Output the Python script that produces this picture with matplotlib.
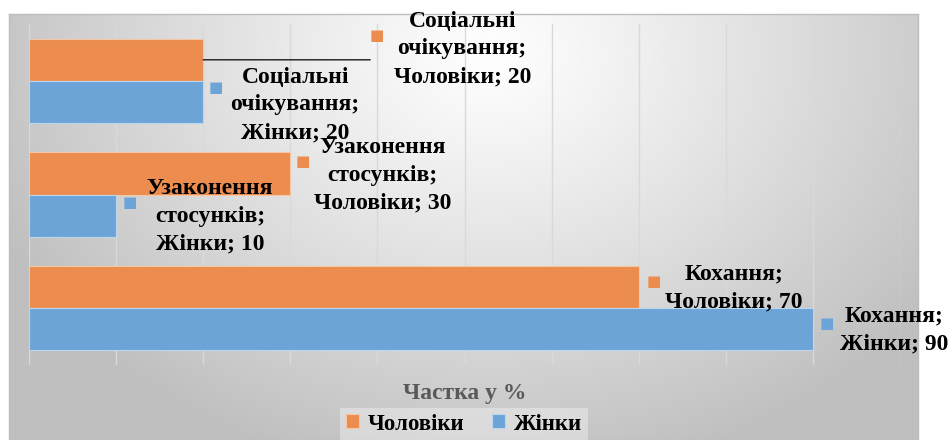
import numpy as np
import matplotlib.pyplot as plt

# data (bottom -> top, as drawn)
categories = ['Кохання', 'Узаконення стосунків', 'Соціальні очікування']
label_names = ['Кохання;', 'Узаконення\nстосунків;', 'Соціальні\nочікування;']
men = [70, 30, 20]
women = [90, 10, 20]
series_names = ['Чоловіки', 'Жінки']

c_men = '#EC8C4E'
c_women = '#6DA4D8'
serif = ['Liberation Serif', 'DejaVu Serif']

W, H = 950, 440
fig = plt.figure(figsize=(W / 100, H / 100), dpi=100)

#%% background box with soft gradient
bx0, by0, bx1, by1 = 9, 14, 918, 440
bg = fig.add_axes([bx0 / W, 1 - by1 / H, (bx1 - bx0) / W, (by1 - by0) / H])
gx, gy = np.meshgrid(np.arange(bx1 - bx0), np.arange(by1 - by0))
r = np.sqrt(((gx - 480) / 540.0) ** 2 + ((gy - 40) / 430.0) ** 2)
shade = 1 - 0.25 * np.clip(r, 0, 1) ** 1.1
bg.imshow(np.dstack([shade] * 3), aspect='auto', interpolation='bilinear')
bg.set_xticks([])
bg.set_yticks([])
for s in bg.spines.values():
    s.set_color('#bdbdbd')
    s.set_linewidth(1)

#%% bars
px0, py0, px1, py1 = 29, 24, 900, 365
ax = fig.add_axes([px0 / W, 1 - py1 / H, (px1 - px0) / W, (py1 - py0) / H])
ax.patch.set_alpha(0)
h = 0.37
y = np.arange(len(categories))
ax.barh(y + h / 2, men, height=h, color=c_men, edgecolor='#f6c7a6', linewidth=0.8,
        label=series_names[0], zorder=3)
ax.barh(y - h / 2, women, height=h, color=c_women, edgecolor='#bcd6ee', linewidth=0.8,
        label=series_names[1], zorder=3)
ax.set_xlim(0, 100)
ax.set_ylim(-0.5, 2.5)
ax.set_xticks(np.arange(0, 101, 10))
ax.grid(axis='x', color='#d9d9d9', linewidth=1, zorder=0)
ax.tick_params(left=False, bottom=False, labelleft=False, labelbottom=False)
for s in ax.spines.values():
    s.set_visible(False)

#%% data labels (offsets in pixels from bar end)
men_off = [((95, -1), (15, 6)), ((92, -2), (13, 12)), ((259, 11), (174, 24))]
women_off = [((81, -1), (14, 6)), ((94, -1), (14, 13)), ((92, -3), (13, 14))]


def put_labels(vals, ypos, name, color, offs):
    for v, yy, lab, (toff, moff) in zip(vals, ypos, label_names, offs):
        ax.annotate(f'{lab}\n{name}; {v}', xy=(v, yy), xytext=toff,
                    textcoords='offset pixels', ha='center', va='center',
                    fontsize=17, fontweight='bold', family=serif,
                    linespacing=1.42, zorder=5, annotation_clip=False)
        ax.annotate('■', xy=(v, yy), xytext=moff, textcoords='offset pixels',
                    ha='center', va='center', fontsize=11, color=color,
                    zorder=5, annotation_clip=False)


put_labels(men, y + h / 2, series_names[0], c_men, men_off)
put_labels(women, y - h / 2, series_names[1], c_women, women_off)

# leader line for the moved label
ax.annotate('', xy=(men[2], y[2] + h / 2), xytext=(167, 0), textcoords='offset pixels',
            arrowprops=dict(arrowstyle='-', color='#1a1a1a', lw=1, shrinkA=0, shrinkB=0),
            annotation_clip=False, zorder=4)

#%% axis title + legend
fig.text(465 / W, 1 - 393 / H, 'Частка у %', ha='center', va='center',
         fontsize=17, fontweight='bold', color='#595959', family=serif)
leg = fig.legend(loc='center', bbox_to_anchor=(464 / W, 1 - 424 / H), ncol=2,
                 frameon=True, fancybox=False, handlelength=0.55, handleheight=0.55,
                 handletextpad=0.4, columnspacing=1.2, borderpad=0.25,
                 prop={'family': serif, 'weight': 'bold', 'size': 16.5})
leg.get_frame().set_facecolor('white')
leg.get_frame().set_alpha(0.35)
leg.get_frame().set_edgecolor('none')

fig.savefig('out.png', dpi=100)
